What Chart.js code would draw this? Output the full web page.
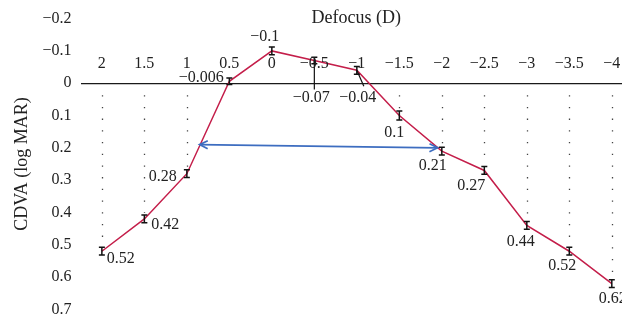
<!DOCTYPE html>
<html>
<head>
<meta charset="utf-8">
<script src="https://cdn.jsdelivr.net/npm/chart.js@4.4.1/dist/chart.umd.min.js"></script>
<style>
  html, body { margin: 0; padding: 0; background: #fff; }
  #wrap { width: 622px; height: 328px; }
</style>
</head>
<body>
<div id="wrap"><canvas id="myChart"></canvas></div>
<script>
// data
var defocus = [2, 1.5, 1, 0.5, 0, -0.5, -1, -1.5, -2, -2.5, -3, -3.5, -4];
var cdva = [0.52, 0.42, 0.28, -0.006, -0.1, -0.07, -0.04, 0.1, 0.21, 0.27, 0.44, 0.52, 0.62];
var errs = [0.012, 0.012, 0.012, 0.01, 0.012, 0.01, 0.012, 0.014, 0.012, 0.012, 0.012, 0.012, 0.012];
var valueLabels = ['0.52', '0.42', '0.28', '-0.006', '-0.1', '-0.07', '-0.04', '0.1', '0.21', '0.27', '0.44', '0.52', '0.62'];
var xTicks = [2, 1.5, 1, 0.5, 0, -0.5, -1, -1.5, -2, -2.5, -3, -3.5, -4];
var arrowX = [0.85, -1.95];
var arrowY = [0.19, 0.2];

// label offsets in px from the point (text centre)
var labelOffsets = [[19, 8], [21, 6], [-24, 3], [-28, -3], [-7, -14], [-3, 37], [1, 27],
  [-5, 17], [-9, 15], [-13, 15], [-6, 16], [-7, 15], [1, 15]];
var leaders = { 5: [0, 29], 6: [7, 16] };

var serif = '"Liberation Serif", "DejaVu Serif", serif';
var textColor = '#222';
var lineColor = '#c41e4a';
var arrowColor = '#3d6dc0';

function minus(s) {
  return String(s).replace('-', '\u2212');
}

var points = [];
for (var i = 0; i < defocus.length; i++) {
  points.push({ x: defocus[i], y: cdva[i] });
}

// dotted drops, error bars, value labels, x ticks, title, arrow
var extras = {
  id: 'extras',
  afterDatasetsDraw: function(chart) {
    var ctx = chart.ctx;
    var xs = chart.scales.x, ys = chart.scales.y;
    var y0 = ys.getPixelForValue(0);
    var i, px, py;

    // dotted verticals from the axis down to the points
    ctx.save();
    ctx.strokeStyle = '#444';
    ctx.lineWidth = 1.3;
    ctx.setLineDash([1.3, 10.4]);
    for (i = 0; i < defocus.length; i++) {
      if (cdva[i] <= 0.02) continue;
      px = Math.round(xs.getPixelForValue(defocus[i])) + 0.5;
      py = ys.getPixelForValue(cdva[i]);
      ctx.beginPath();
      ctx.moveTo(px, y0 + 12);
      ctx.lineTo(px, py - 6);
      ctx.stroke();
    }
    ctx.restore();

    // error bars
    ctx.save();
    ctx.strokeStyle = '#111';
    ctx.lineWidth = 1.5;
    for (i = 0; i < defocus.length; i++) {
      px = xs.getPixelForValue(defocus[i]);
      var top = ys.getPixelForValue(cdva[i] - errs[i]);
      var bot = ys.getPixelForValue(cdva[i] + errs[i]);
      ctx.beginPath();
      ctx.moveTo(px, top); ctx.lineTo(px, bot);
      ctx.moveTo(px - 3, top); ctx.lineTo(px + 3, top);
      ctx.moveTo(px - 3, bot); ctx.lineTo(px + 3, bot);
      ctx.stroke();
    }
    ctx.restore();

    // leader lines for the labels under the axis
    ctx.save();
    ctx.strokeStyle = '#111';
    ctx.lineWidth = 1.2;
    for (var k in leaders) {
      px = xs.getPixelForValue(defocus[k]);
      py = ys.getPixelForValue(cdva[k]);
      ctx.beginPath();
      ctx.moveTo(px, py);
      ctx.lineTo(px + leaders[k][0], py + leaders[k][1]);
      ctx.stroke();
    }
    ctx.restore();

    // value labels
    ctx.save();
    ctx.fillStyle = textColor;
    ctx.font = '16px ' + serif;
    ctx.textAlign = 'center';
    ctx.textBaseline = 'middle';
    for (i = 0; i < defocus.length; i++) {
      px = xs.getPixelForValue(defocus[i]);
      py = ys.getPixelForValue(cdva[i]);
      ctx.fillText(minus(valueLabels[i]), px + labelOffsets[i][0], py + labelOffsets[i][1]);
    }

    // x tick labels above the zero line
    for (i = 0; i < xTicks.length; i++) {
      ctx.fillText(minus(xTicks[i]), xs.getPixelForValue(xTicks[i]), y0 - 19);
    }

    // x title
    ctx.font = '18px ' + serif;
    ctx.fillText('Defocus (D)', xs.getPixelForValue(-0.5) + 42, ys.getPixelForValue(-0.2));
    ctx.restore();

    // blue double arrow
    var ax1 = xs.getPixelForValue(arrowX[0]), ay1 = ys.getPixelForValue(arrowY[0]);
    var ax2 = xs.getPixelForValue(arrowX[1]), ay2 = ys.getPixelForValue(arrowY[1]);
    var ang = Math.atan2(ay2 - ay1, ax2 - ax1);
    ctx.save();
    ctx.strokeStyle = arrowColor;
    ctx.lineWidth = 1.7;
    ctx.beginPath();
    ctx.moveTo(ax1, ay1); ctx.lineTo(ax2, ay2);
    ctx.stroke();
    function head(x, y, a) {
      ctx.beginPath();
      ctx.moveTo(x + 9 * Math.cos(a + 0.45), y + 9 * Math.sin(a + 0.45));
      ctx.lineTo(x, y);
      ctx.lineTo(x + 9 * Math.cos(a - 0.45), y + 9 * Math.sin(a - 0.45));
      ctx.stroke();
    }
    head(ax1, ay1, ang);
    head(ax2, ay2, ang + Math.PI);
    ctx.restore();
  }
};

var chart = new Chart(document.getElementById('myChart'), {
  type: 'line',
  data: {
    datasets: [{
      data: points,
      borderColor: lineColor,
      borderWidth: 1.5,
      pointRadius: 0,
      tension: 0,
      fill: false
    }]
  },
  options: {
    responsive: true,
    maintainAspectRatio: false,
    animation: false,
    events: [],
    layout: { padding: { left: 7, top: 17, bottom: 11, right: 0 } },
    plugins: { legend: { display: false }, tooltip: { enabled: false } },
    scales: {
      x: {
        type: 'linear',
        display: false,
        reverse: true,
        min: -4.12,
        max: 2.25
      },
      y: {
        type: 'linear',
        reverse: true,
        min: -0.2,
        max: 0.7,
        border: { display: false },
        grid: {
          drawTicks: false,
          lineWidth: 1.3,
          color: function(c) {
            return Math.abs(c.tick.value) < 1e-9 ? '#1a1a1a' : 'rgba(0,0,0,0)';
          }
        },
        ticks: {
          stepSize: 0.1,
          padding: 9,
          color: textColor,
          font: { family: serif, size: 16 },
          callback: function(v) {
            if (Math.abs(v) < 1e-9) return '0';
            return minus(+Number(v).toFixed(1));
          }
        },
        title: {
          display: true,
          text: 'CDVA (log MAR)',
          color: textColor,
          font: { family: serif, size: 18 },
          padding: { top: 4, bottom: 1 }
        }
      }
    }
  },
  plugins: [extras]
});
</script>
</body>
</html>
